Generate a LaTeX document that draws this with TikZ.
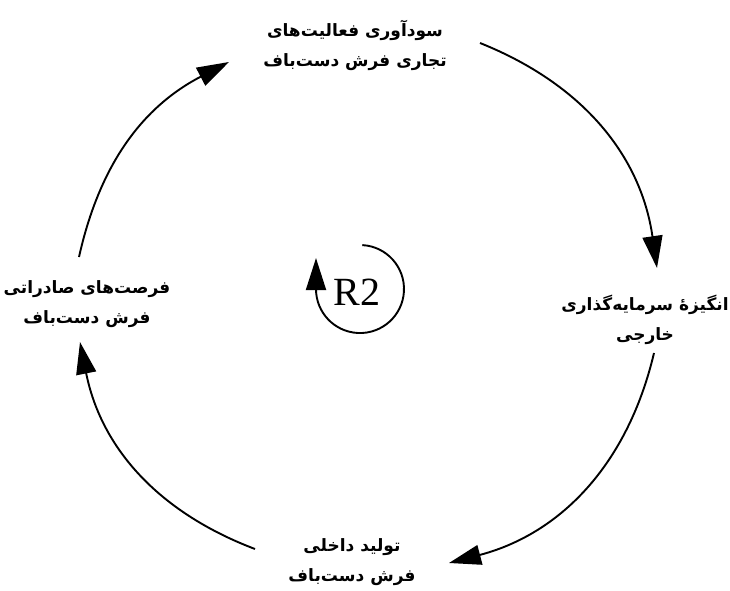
\documentclass[tikz,border=0pt]{standalone}
\usepackage{fontspec}
\setmainfont{Liberation Serif}
\newfontfamily\fa[Script=Arabic]{DejaVu Sans}
\TeXXeTstate=1
\usetikzlibrary{arrows.meta}
\begin{document}
\begin{tikzpicture}[x=1pt,y=1pt,
  lbl/.style={font=\fa\bfseries\fontsize{17}{30}\selectfont, align=center, inner sep=0pt},
  flow/.style={line width=1.9pt, -{Triangle[length=32pt,width=20pt]}}]
\useasboundingbox (0,0) rectangle (730,590);
\node[lbl] (top) at (355,545) {\beginR سودآوری فعالیت^^^^200cهای\endR\\\beginR تجاری فرش دست^^^^200cباف\endR};
\node[lbl] (right) at (645,270) {\beginR انگیزهٔ سرمایه^^^^200cگذاری\endR\\\beginR خارجی\endR};
\node[lbl] (bottom) at (352,28) {\beginR تولید داخلی\endR\\\beginR فرش دست^^^^200cباف\endR};
\node[lbl] (left) at (87,286) {\beginR فرصت^^^^200cهای صادراتی\endR\\\beginR فرش دست^^^^200cباف\endR};
\node[font=\fontsize{40}{40}\selectfont, inner sep=0pt] (r2) at (357,298) {R2};
\coordinate (a1s) at (480,547); \coordinate (a1e) at (657,322);
\coordinate (a2s) at (654,237); \coordinate (a2e) at (449,27);
\coordinate (a3s) at (255,41);  \coordinate (a3e) at (80,248);
\coordinate (a4s) at (79,333);  \coordinate (a4e) at (229,528);
\draw[flow] (a1s) to[bend left=30] (a1e);
\draw[flow] (a2s) to[bend left=31] (a2e);
\draw[flow] (a3s) to[bend left=29] (a3e);
\draw[flow] (a4s) to[bend left=25] (a4e);
\coordinate (ls) at (362.3,344.9);
\draw[flow] (ls) arc[start angle=87, end angle=-180, radius=44] -- ++(0,31);
\end{tikzpicture}
\end{document}
